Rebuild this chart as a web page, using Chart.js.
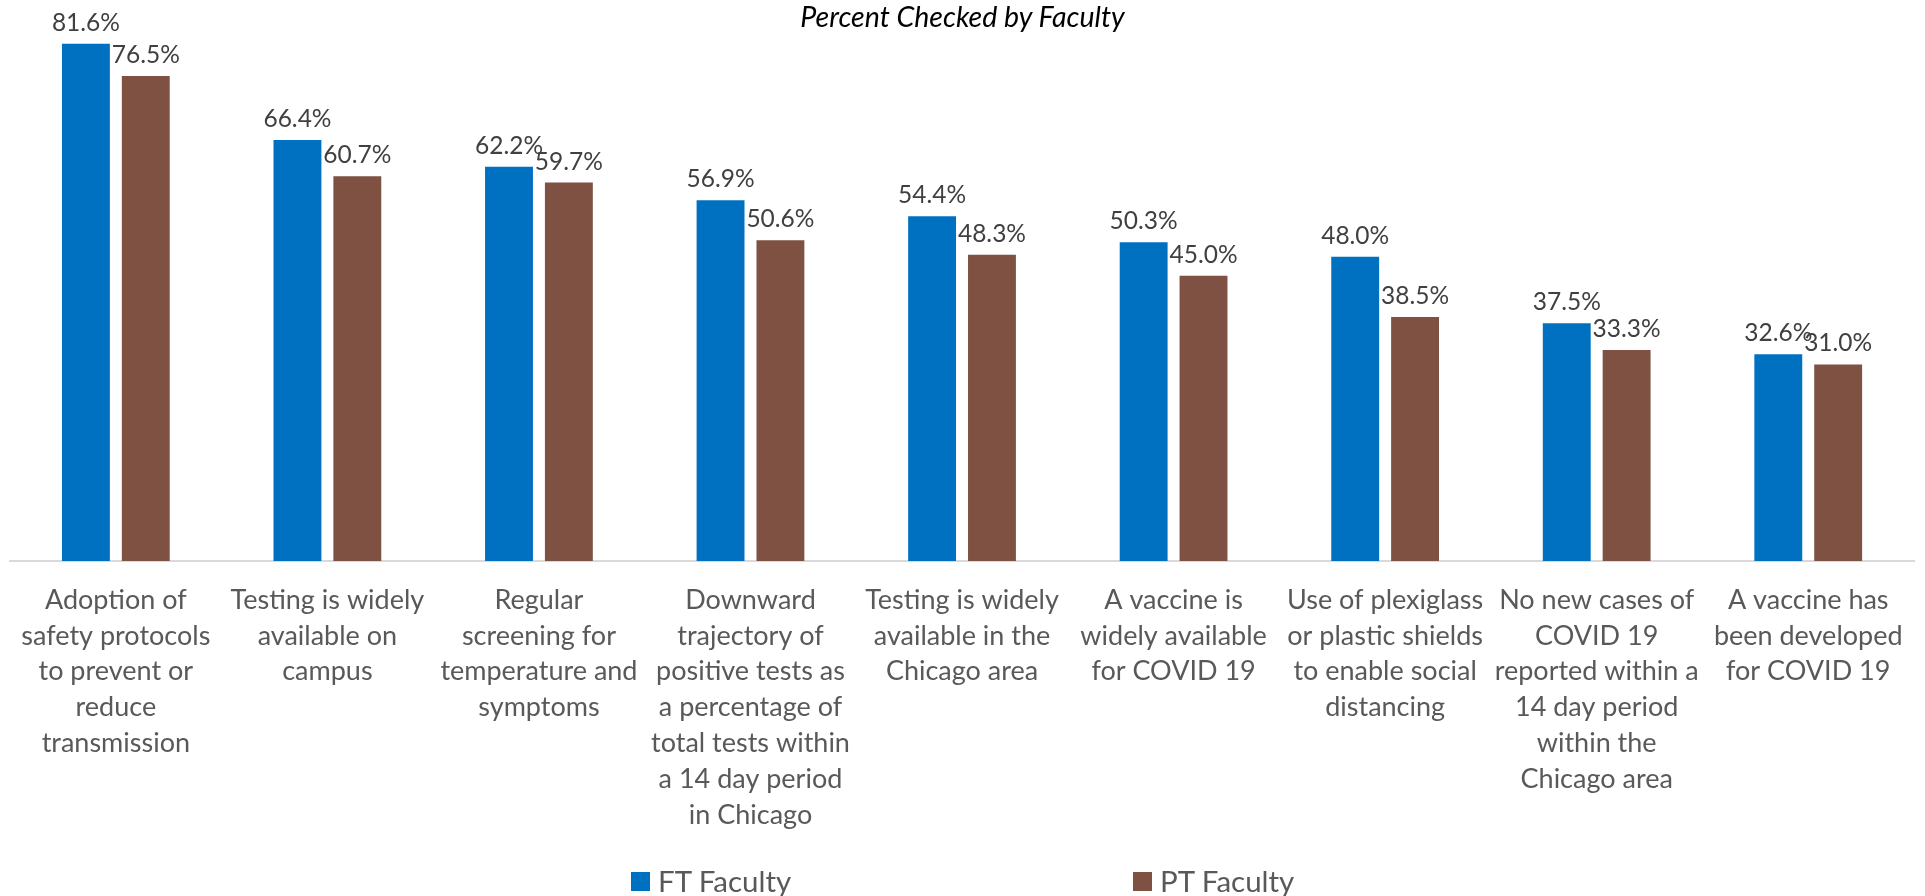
<!DOCTYPE html>
<html>
<head>
<meta charset="utf-8">
<script src="https://cdn.jsdelivr.net/npm/chart.js@4.4.0/dist/chart.umd.min.js"></script>
<style>
  body { margin: 0; background: #fff; }
  #wrap { position: relative; width: 1925px; height: 896px; overflow: hidden; }
  #title { position: absolute; left: 0; width: 1925px; top: -1px; text-align: center;
           font: italic 28.5px Lato, 'Liberation Sans', sans-serif; color: #000; }
  .leg { position: absolute; top: 862px; font: 29.5px Lato, 'Liberation Sans', sans-serif; color: #595959;
         line-height: 38px; white-space: nowrap; }
  .leg i { display: inline-block; width: 19px; height: 19px; vertical-align: middle; margin-right: 8px;
           position: relative; top: -3px; }
</style>
</head>
<body>
<div id="wrap">
  <canvas id="myChart" width="1925" height="896"></canvas>
  <div id="title">Percent Checked by Faculty</div>
  <div class="leg" style="left:631px"><i style="background:#0070C0"></i>FT Faculty</div>
  <div class="leg" style="left:1133px"><i style="background:#7E5142"></i>PT Faculty</div>
</div>
<script>
var categories = [
    ["Adoption of", "safety protocols", "to prevent or", "reduce", "transmission"],
    ["Testing is widely", "available on", "campus"],
    ["Regular", "screening for", "temperature and", "symptoms"],
    ["Downward", "trajectory of", "positive tests as", "a percentage of", "total tests within", "a 14 day period", "in Chicago"],
    ["Testing is widely", "available in the", "Chicago area"],
    ["A vaccine is", "widely available", "for COVID 19"],
    ["Use of plexiglass", "or plastic shields", "to enable social", "distancing"],
    ["No new cases of", "COVID 19", "reported within a", "14 day period", "within the", "Chicago area"],
    ["A vaccine has", "been developed", "for COVID 19"]
];
var ftFaculty = [81.6, 66.4, 62.2, 56.9, 54.4, 50.3, 48.0, 37.5, 32.6];
var ptFaculty = [76.5, 60.7, 59.7, 50.6, 48.3, 45.0, 38.5, 33.3, 31.0];
var seriesNames = ["FT Faculty", "PT Faculty"];

var fontFamily = "Lato, 'Liberation Sans', sans-serif";

// value labels above each bar
var barLabels = {
    id: 'barLabels',
    afterDatasetsDraw(chart) {
        var ctx = chart.ctx;
        ctx.save();
        ctx.font = '24.5px ' + fontFamily;
        ctx.fillStyle = '#404040';
        ctx.textAlign = 'center';
        ctx.textBaseline = 'alphabetic';
        chart.data.datasets.forEach((ds, i) => {
            chart.getDatasetMeta(i).data.forEach((bar, j) => {
                ctx.fillText(ds.data[j].toFixed(1) + '%', bar.x, bar.y - 13);
            });
        });
        ctx.restore();
    }
};

var ctx = document.getElementById("myChart");
new Chart(ctx, {
    type: 'bar',
    data: {
        labels: categories,
        datasets: [
            { label: seriesNames[0], data: ftFaculty, backgroundColor: '#0070C0' },
            { label: seriesNames[1], data: ptFaculty, backgroundColor: '#7E5142' }
        ]
    },
    options: {
        responsive: false,
        animation: false,
        layout: { padding: { left: 6, right: 11, top: 0, bottom: 0 } },
        plugins: {
            legend: { display: false },
            title: { display: false },
            tooltip: { enabled: false }
        },
        datasets: {
            bar: { categoryPercentage: 0.566, barPercentage: 0.8 }
        },
        scales: {
            x: {
                grid: { display: false, drawTicks: false },
                border: { display: true, color: '#d9d9d9', width: 2 },
                ticks: {
                    autoSkip: false, maxRotation: 0, padding: 21,
                    color: '#595959',
                    font: { size: 27, family: fontFamily, lineHeight: 1.33 }
                },
                afterFit: (scale) => { scale.height = 335; }
            },
            y: {
                display: false,
                min: 0,
                max: 88.5
            }
        }
    },
    plugins: [barLabels]
});
</script>
</body>
</html>
